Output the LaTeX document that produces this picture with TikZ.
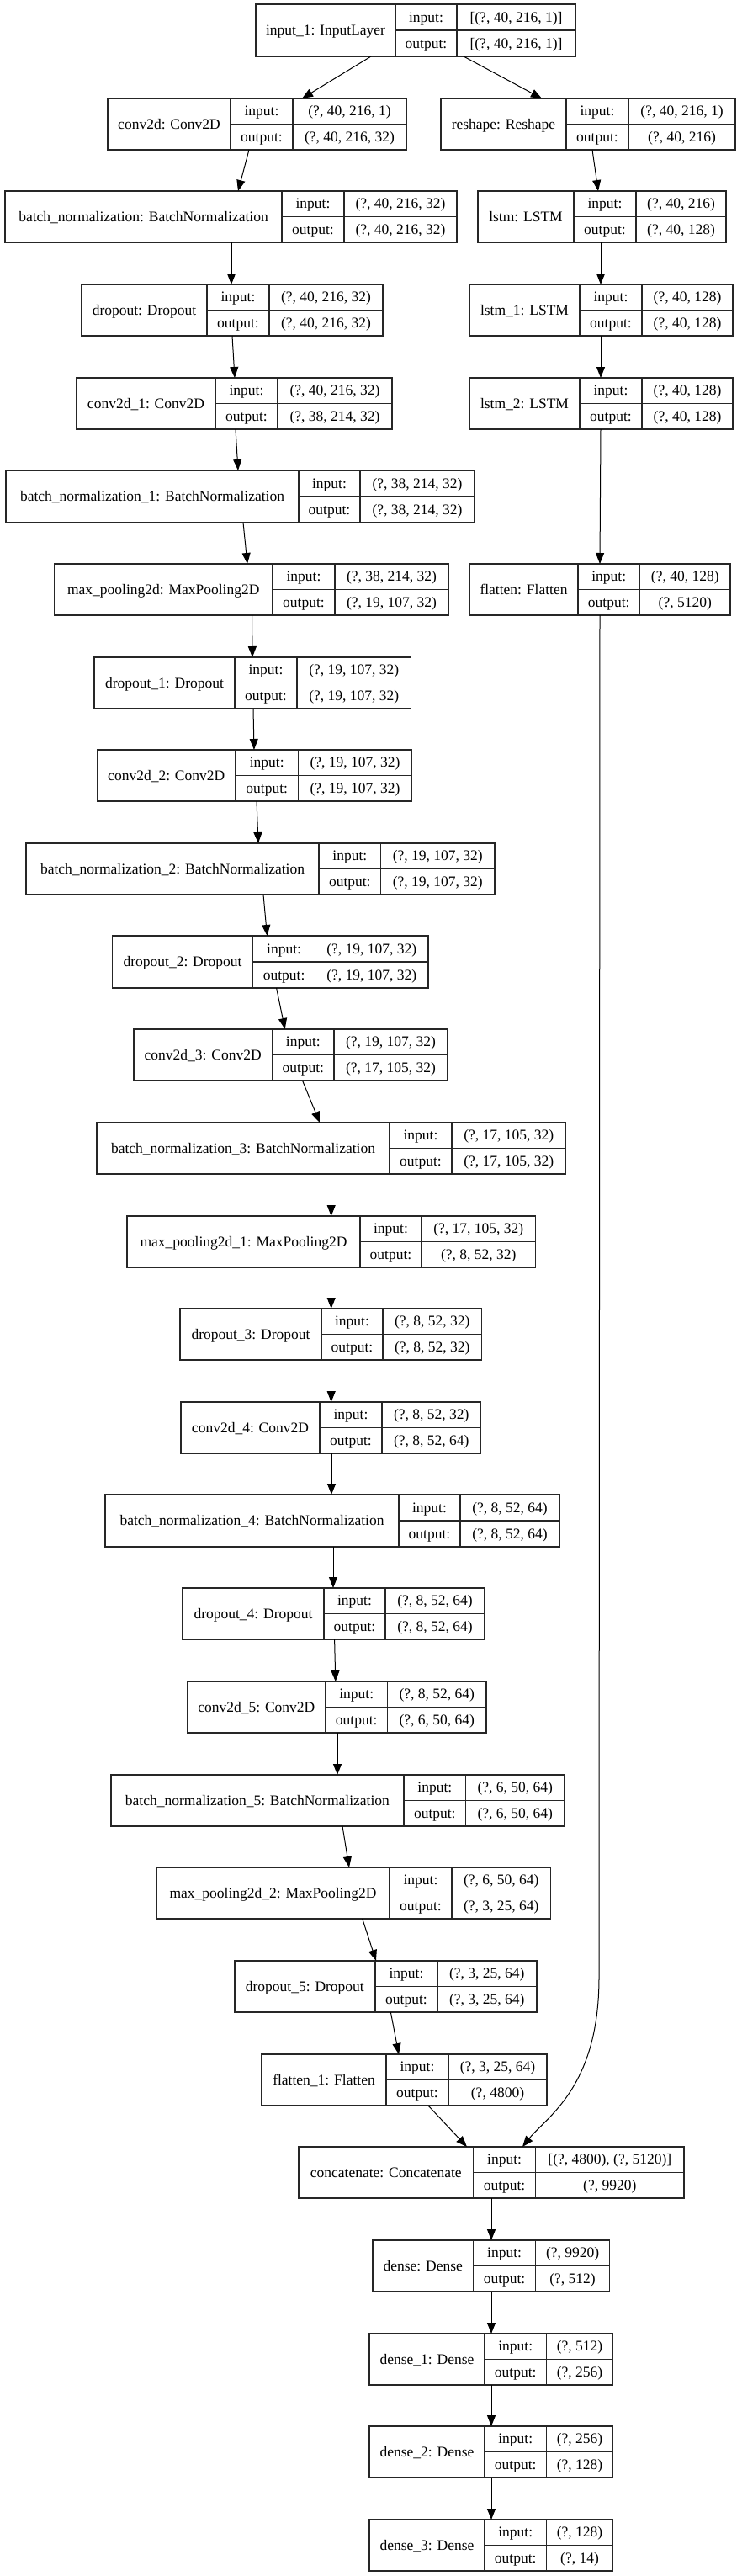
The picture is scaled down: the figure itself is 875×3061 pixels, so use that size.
\documentclass[tikz,border=0pt]{standalone}
\usepackage{fontspec}
\setmainfont{Liberation Serif}
\usetikzlibrary{arrows.meta,calc}
\tikzset{
  box/.style={draw=black!85, line width=1.6pt, inner sep=0pt, outer sep=0pt, rectangle},
  cellline/.style={draw=black!85, line width=1.1pt},
  txt/.style={inner sep=0pt, outer sep=0pt, anchor=base, font=\fontsize{17.5}{20}\selectfont},
  arr/.style={draw=black, line width=1pt, -{Triangle[length=13pt,width=10pt]}},
}
\newcommand\lay[7]{%
  \def\Lname{#1}\def\La{#2}\def\Lb{#3}\def\Lc{#4}\def\Ld{#5}\def\Lt{#6}\def\Lbt{#7}\layb}
\newcommand\layb[3]{%
  \pgfmathsetmacro\Lm{(\Lt+\Lbt)/2}%
  \pgfmathsetmacro\Lw{\Ld-\La}%
  \pgfmathsetmacro\Lh{\Lbt-\Lt}%
  \pgfmathsetmacro\Lcx{(\La+\Ld)/2}%
  \node[box, minimum width=\Lw pt, minimum height=\Lh pt] (\Lname) at (\Lcx,\Lm) {};
  \draw[cellline] (\Lb,\Lt) -- (\Lb,\Lbt);
  \draw[cellline] (\Lc,\Lt) -- (\Lc,\Lbt);
  \draw[cellline] (\Lb,\Lm) -- (\Ld,\Lm);
  \pgfmathsetmacro\Lya{\Lm+5.7}%
  \pgfmathsetmacro\Lyi{(\Lt+\Lm)/2+5.7}%
  \pgfmathsetmacro\Lyo{(\Lm+\Lbt)/2+5.7}%
  \node[txt] (\Lname-l) at ({(\La+\Lb)/2},\Lya) {#1};
  \node[txt] (\Lname-ik) at ({(\Lb+\Lc)/2},\Lyi) {input:};
  \node[txt] (\Lname-ok) at ({(\Lb+\Lc)/2},\Lyo) {output:};
  \node[txt] (\Lname-iv) at ({(\Lc+\Ld)/2},\Lyi) {#2};
  \node[txt] (\Lname-ov) at ({(\Lc+\Ld)/2},\Lyo) {#3};
}
\newcommand\edge[4]{\draw[arr] (#2,0 |- #1.south) -- (#4,0 |- #3.north);}
\begin{document}
\begin{tikzpicture}[x=1pt,y=-1pt]
\useasboundingbox (0,0) rectangle (875,3061);
\fill[white] (0,0) rectangle (875,3061);
\lay{in1}{304}{470}{543}{684}{5}{67}{input\_1: InputLayer}{[(?, 40, 216, 1)]}{[(?, 40, 216, 1)]}
\lay{c0}{128}{274}{348}{483}{117}{178}{conv2d: Conv2D}{(?, 40, 216, 1)}{(?, 40, 216, 32)}
\lay{rs}{524}{673}{747}{874}{117}{178}{reshape: Reshape}{(?, 40, 216, 1)}{(?, 40, 216)}
\lay{bn0}{6}{335}{409}{543}{227}{288}{batch\_normalization: BatchNormalization}{(?, 40, 216, 32)}{(?, 40, 216, 32)}
\lay{ls0}{568}{682}{756}{863}{227}{288}{lstm: LSTM}{(?, 40, 216)}{(?, 40, 128)}
\lay{dr0}{97}{246}{320}{455}{338}{399}{dropout: Dropout}{(?, 40, 216, 32)}{(?, 40, 216, 32)}
\lay{ls1}{558}{689}{763}{871}{338}{399}{lstm\_1: LSTM}{(?, 40, 128)}{(?, 40, 128)}
\lay{c1}{91}{256}{330}{466}{449}{510}{conv2d\_1: Conv2D}{(?, 40, 216, 32)}{(?, 38, 214, 32)}
\lay{ls2}{558}{689}{763}{871}{449}{510}{lstm\_2: LSTM}{(?, 40, 128)}{(?, 40, 128)}
\lay{bn1}{7}{355}{428}{564}{559}{621}{batch\_normalization\_1: BatchNormalization}{(?, 38, 214, 32)}{(?, 38, 214, 32)}
\lay{mp0}{64.5}{324}{398}{533}{670}{731}{max\_pooling2d: MaxPooling2D}{(?, 38, 214, 32)}{(?, 19, 107, 32)}
\lay{fl0}{558}{687}{760.5}{868}{670}{731}{flatten: Flatten}{(?, 40, 128)}{(?, 5120)}
\lay{dr1}{112}{279}{353}{488.5}{781}{842}{dropout\_1: Dropout}{(?, 19, 107, 32)}{(?, 19, 107, 32)}
\lay{c2}{115.5}{280}{354.5}{489.6}{891}{952}{conv2d\_2: Conv2D}{(?, 19, 107, 32)}{(?, 19, 107, 32)}
\lay{bn2}{31}{379}{452.6}{588}{1002}{1063}{batch\_normalization\_2: BatchNormalization}{(?, 19, 107, 32)}{(?, 19, 107, 32)}
\lay{dr2}{133.5}{300.6}{374.6}{509}{1112}{1174}{dropout\_2: Dropout}{(?, 19, 107, 32)}{(?, 19, 107, 32)}
\lay{c3}{158.7}{323.6}{397}{532}{1223}{1284}{conv2d\_3: Conv2D}{(?, 19, 107, 32)}{(?, 17, 105, 32)}
\lay{bn3}{115}{463}{537}{672.5}{1334}{1395}{batch\_normalization\_3: BatchNormalization}{(?, 17, 105, 32)}{(?, 17, 105, 32)}
\lay{mp1}{151}{428}{501}{636.6}{1445}{1506}{max\_pooling2d\_1: MaxPooling2D}{(?, 17, 105, 32)}{(?, 8, 52, 32)}
\lay{dr3}{214}{382}{455}{572.6}{1555}{1616}{dropout\_3: Dropout}{(?, 8, 52, 32)}{(?, 8, 52, 32)}
\lay{c4}{215}{380}{454}{571.5}{1666}{1727}{conv2d\_4: Conv2D}{(?, 8, 52, 32)}{(?, 8, 52, 64)}
\lay{bn4}{125}{474}{547}{665}{1776}{1838}{batch\_normalization\_4: BatchNormalization}{(?, 8, 52, 64)}{(?, 8, 52, 64)}
\lay{dr4}{217}{385}{458}{576}{1887}{1948}{dropout\_4: Dropout}{(?, 8, 52, 64)}{(?, 8, 52, 64)}
\lay{c5}{222.7}{387}{460.5}{578}{1998}{2059}{conv2d\_5: Conv2D}{(?, 8, 52, 64)}{(?, 6, 50, 64)}
\lay{bn5}{131.8}{480}{553.6}{671}{2109}{2170}{batch\_normalization\_5: BatchNormalization}{(?, 6, 50, 64)}{(?, 6, 50, 64)}
\lay{mp2}{186}{463}{537}{654.5}{2219}{2280}{max\_pooling2d\_2: MaxPooling2D}{(?, 6, 50, 64)}{(?, 3, 25, 64)}
\lay{dr5}{278.7}{446}{520}{637.7}{2330}{2391}{dropout\_5: Dropout}{(?, 3, 25, 64)}{(?, 3, 25, 64)}
\lay{fl1}{311}{459}{533}{650}{2441}{2502}{flatten\_1: Flatten}{(?, 3, 25, 64)}{(?, 4800)}
\lay{cc}{355}{562.5}{636.6}{813}{2551}{2612}{concatenate: Concatenate}{[(?, 4800), (?, 5120)]}{(?, 9920)}
\lay{d0}{443}{562.5}{636.6}{724.6}{2662}{2723}{dense: Dense}{(?, 9920)}{(?, 512)}
\lay{d1}{439}{576}{649.5}{728.5}{2773}{2834}{dense\_1: Dense}{(?, 512)}{(?, 256)}
\lay{d2}{439}{576}{649.5}{728.5}{2883}{2944}{dense\_2: Dense}{(?, 256)}{(?, 128)}
\lay{d3}{439}{576}{649.5}{728.5}{2994}{3055}{dense\_3: Dense}{(?, 128)}{(?, 14)}
\edge{in1}{441}{c0}{359}
\edge{in1}{551}{rs}{644}
\edge{c0}{296}{bn0}{283}
\edge{rs}{704}{ls0}{711}
\edge{bn0}{275}{dr0}{275}
\edge{ls0}{714}{ls1}{714}
\edge{dr0}{276}{c1}{279}
\edge{ls1}{714}{ls2}{714}
\edge{c1}{280}{bn1}{283}
\edge{ls2}{714}{fl0}{713}
\edge{bn1}{289}{mp0}{294}
\edge{mp0}{299.5}{dr1}{300}
\edge{dr1}{301}{c2}{302}
\edge{c2}{305}{bn2}{307}
\edge{bn2}{313}{dr2}{317.5}
\edge{dr2}{328.6}{c3}{338.7}
\edge{c3}{359.5}{bn3}{380}
\edge{bn3}{393.7}{mp1}{393.7}
\edge{mp1}{393.7}{dr3}{393.7}
\edge{dr3}{393.7}{c4}{393.7}
\edge{c4}{394}{bn4}{394}
\edge{bn4}{396}{dr4}{396}
\edge{dr4}{397.6}{c5}{398.8}
\edge{c5}{401}{bn5}{401}
\edge{bn5}{407}{mp2}{415}
\edge{mp2}{430.7}{dr5}{447}
\edge{dr5}{464.4}{fl1}{474}
\edge{fl1}{509}{cc}{555}
\draw[arr] (713,0 |- fl0.south) -- (712,2350) .. controls (712,2480) and (650,2515) .. (621,0 |- cc.north);
\edge{cc}{584}{d0}{584}
\edge{d0}{584}{d1}{584}
\edge{d1}{584}{d2}{584}
\edge{d2}{584}{d3}{584}
\end{tikzpicture}
\end{document}
